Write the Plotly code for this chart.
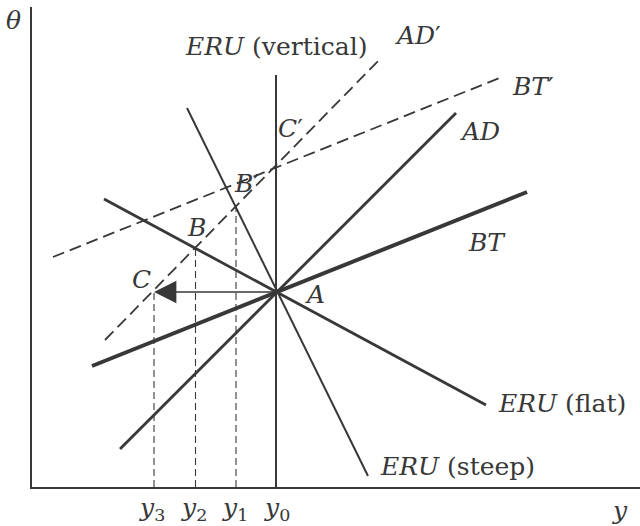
import plotly.graph_objects as go

# ---- data (units: output y on x-axis, theta on y-axis) ----
X_RANGE = [0, 608]
Y_RANGE = [0, 480]

ad_x = [88, 424]; ad_y = [38, 374]
bt_x = [60, 495]; bt_y = [121, 295]
eru_flat_x = [72, 454]; eru_flat_y = [288, 82]
eru_steep_x = [155, 336]; eru_steep_y = [379, 11]
eru_vert_x = [244, 244]; eru_vert_y = [0, 412]
ad2_x = [73, 350]; ad2_y = [147, 430]
bt2_x = [21, 470]; bt2_y = [230, 410]

drop_x = [204, 163.5, 122]          # y1, y2, y3
drop_top = [280, 239, 195]          # B', B, C

point_A = (244, 195)
point_C = (122, 195)

label_text = ["<i>θ</i>", "<i>ERU</i> (vertical)", "<i>AD</i>′", "<i>BT</i>′", "<i>AD</i>", "<i>BT</i>",
              "<i>C</i>′", "<i>B</i>′", "<i>B</i>", "<i>C</i>", "<i>A</i>",
              "<i>ERU</i> (flat)", "<i>ERU</i> (steep)", "<i>y</i>",
              "<i>y</i><sub>3</sub>", "<i>y</i><sub>2</sub>", "<i>y</i><sub>1</sub>", "<i>y</i><sub>0</sub>"]
label_x = [-19, 244, 386, 501, 448, 455, 258, 214, 164, 109, 283, 530, 425, 588, 120, 162, 203, 245]
label_y = [467, 441, 452, 400, 356, 245, 359, 304, 260, 208, 193, 84, 21, -23, -22, -22, -22, -22]

INK = "#383838"
FONT = "DejaVu Serif"

fig = go.Figure()

def seg(x, y, w, dash="solid"):
    fig.add_trace(go.Scatter(x=x, y=y, mode="lines", line=dict(color=INK, width=w, dash=dash),
                             hoverinfo="skip", showlegend=False))

seg(ad_x, ad_y, 2.8)
seg(bt_x, bt_y, 4.0)
seg(eru_flat_x, eru_flat_y, 2.8)
seg(eru_steep_x, eru_steep_y, 2.0)
seg(eru_vert_x, eru_vert_y, 2.0)
seg(ad2_x, ad2_y, 1.8, "12px,6px")
seg(bt2_x, bt2_y, 1.8, "12px,6px")
for dx, dt in zip(drop_x, drop_top):
    seg([dx, dx], [0, dt], 1.1, "7px,4px")

# arrow from A to C
fig.add_annotation(x=point_C[0], y=point_C[1], ax=point_A[0], ay=point_A[1],
                   xref="x", yref="y", axref="x", ayref="y", text="",
                   showarrow=True, arrowhead=2, arrowsize=2.8, arrowwidth=1.6,
                   arrowcolor=INK, standoff=0, startstandoff=0)

def to_paper(v, rng):
    return (v - rng[0]) / (rng[1] - rng[0])

for t, x, y in zip(label_text, label_x, label_y):
    fig.add_annotation(x=to_paper(x, X_RANGE), y=to_paper(y, Y_RANGE),
                       xref="paper", yref="paper", text=t, showarrow=False,
                       font=dict(family=FONT, size=25, color=INK),
                       xanchor="center", yanchor="middle")

fig.update_layout(
    width=640, height=526,
    margin=dict(l=32, r=0, t=7, b=39),
    paper_bgcolor="white", plot_bgcolor="white",
    showlegend=False,
    xaxis=dict(range=X_RANGE, showgrid=False, zeroline=False, showticklabels=False,
               ticks="", showline=True, linecolor=INK, linewidth=2),
    yaxis=dict(range=Y_RANGE, showgrid=False, zeroline=False, showticklabels=False,
               ticks="", showline=True, linecolor=INK, linewidth=2),
)

fig.write_html("out.html", config={"displayModeBar": False},
               post_script="document.body.style.margin='0';")
